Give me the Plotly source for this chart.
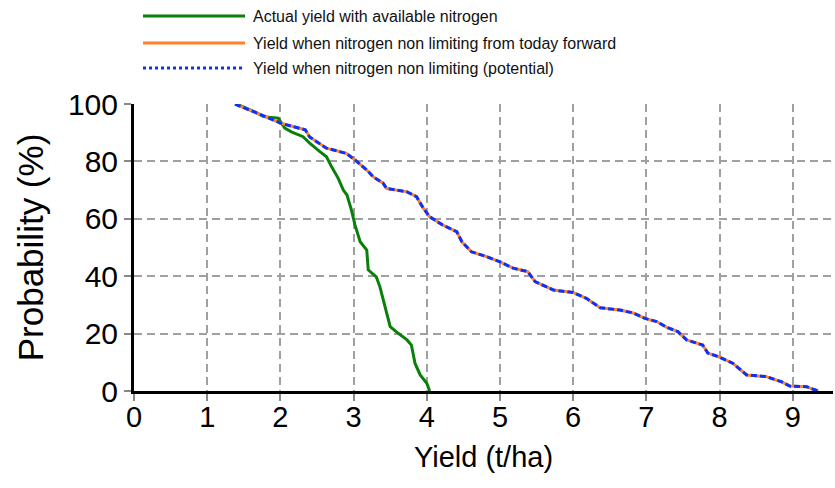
import plotly.graph_objects as go

# Actual yield with available nitrogen
actual_yield = [1.40, 1.65, 1.77, 1.97, 2.06, 2.15, 2.31, 2.40, 2.54, 2.63, 2.70, 2.79, 2.86, 2.91,
                2.97, 3.02, 3.09, 3.18, 3.20, 3.31, 3.36, 3.43, 3.50, 3.61, 3.73, 3.79, 3.84, 3.91,
                4.00, 4.04]
actual_prob = [100, 97.3, 95.6, 95.1, 91.6, 90.3, 88.6, 86.4, 83.4, 81.6, 78.1, 74.1, 70.0, 68.3,
               63.1, 57.8, 52.0, 49.1, 42.2, 39.8, 36.3, 29.4, 22.4, 20.1, 17.8, 16.0, 9.6, 5.6,
               2.7, 0]

# Yield when nitrogen non limiting (potential) / from today forward (coincide)
pot_yield = [1.38, 1.76, 2.02, 2.34, 2.40, 2.63, 2.90, 3.02, 3.18, 3.27, 3.40, 3.45, 3.63, 3.73,
             3.86, 3.95, 4.04, 4.22, 4.41, 4.48, 4.61, 4.82, 5.00, 5.18, 5.38, 5.48, 5.73, 6.00,
             6.18, 6.37, 6.64, 6.82, 6.98, 7.14, 7.28, 7.43, 7.55, 7.77, 7.84, 7.98, 8.18, 8.37,
             8.64, 8.85, 8.96, 9.19, 9.28, 9.35]
pot_prob = [100, 96.0, 93.2, 91.0, 88.5, 84.6, 82.8, 80.5, 77.0, 74.6, 72.5, 70.6, 69.8, 69.4,
            67.7, 63.8, 60.7, 57.8, 55.5, 52.0, 48.5, 46.8, 45.0, 42.8, 41.6, 38.1, 35.2, 34.3,
            32.3, 29.0, 28.2, 27.2, 25.3, 24.2, 22.2, 20.7, 17.8, 16.0, 13.2, 12.0, 9.7, 5.6,
            5.0, 3.2, 1.7, 1.5, 0.6, 0]
fwd_yield = list(pot_yield)
fwd_prob = list(pot_prob)

x_ticks = [0, 1, 2, 3, 4, 5, 6, 7, 8, 9]
y_ticks = [0, 20, 40, 60, 80, 100]

names = ["Actual yield with available nitrogen",
         "Yield when nitrogen non limiting from today forward",
         "Yield when nitrogen non limiting (potential)"]
GREEN = "#0a800a"
ORANGE = "#ff8228"
BLUE = "#0a32ff"

fig = go.Figure()
fig.add_trace(go.Scatter(x=actual_yield, y=actual_prob, mode="lines", name=names[0],
                         line=dict(color=GREEN, width=3), showlegend=False))
fig.add_trace(go.Scatter(x=fwd_yield, y=fwd_prob, mode="lines", name=names[1],
                         line=dict(color=ORANGE, width=3), showlegend=False))
fig.add_trace(go.Scatter(x=pot_yield, y=pot_prob, mode="lines", name=names[2],
                         line=dict(color=BLUE, width=3, dash="6px,3px"), showlegend=False))

# custom legend (long line samples above the plot)
leg_rows = [1.3066, 1.2125, 1.1254]
leg_styles = [dict(color=GREEN, width=3), dict(color=ORANGE, width=3),
              dict(color=BLUE, width=3, dash="3px,3px")]
for yy, st, nm in zip(leg_rows, leg_styles, names):
    fig.add_shape(type="line", xref="paper", yref="paper", x0=0.0129, x1=0.1588, y0=yy, y1=yy,
                  line=st)
    fig.add_annotation(xref="paper", yref="paper", x=0.168, y=yy, text=nm, showarrow=False,
                       xanchor="left", yanchor="middle",
                       font=dict(family="Liberation Sans, Arial", size=16, color="#111"))

fig.update_layout(
    width=835, height=488,
    margin=dict(l=134, r=2, t=104, b=97),
    paper_bgcolor="white", plot_bgcolor="white",
    font=dict(family="Liberation Sans, Arial", color="black"),
)
fig.update_xaxes(range=[0, 9.55], tickvals=x_ticks, ticktext=[str(v) for v in x_ticks],
                 showline=True, linecolor="black", linewidth=3,
                 ticks="outside", ticklen=7, tickwidth=1.5, tickcolor="#888",
                 ticklabelstandoff=-9,
                 showgrid=True, gridcolor="#a0a0a0", gridwidth=2, griddash="8px,5px",
                 zeroline=False, tickfont=dict(size=29),
                 title=dict(text="Yield (t/ha)", font=dict(size=29), standoff=15))
fig.update_yaxes(range=[0, 100], tickvals=y_ticks, ticktext=[str(v) for v in y_ticks],
                 showline=True, linecolor="black", linewidth=3,
                 ticks="outside", ticklen=7, tickwidth=1.5, tickcolor="#888",
                 showgrid=True, gridcolor="#a0a0a0", gridwidth=2, griddash="8px,5px",
                 zeroline=False, tickfont=dict(size=30),
                 title=dict(text="Probability (%)", font=dict(size=35), standoff=14))

fig.write_html("out.html")
